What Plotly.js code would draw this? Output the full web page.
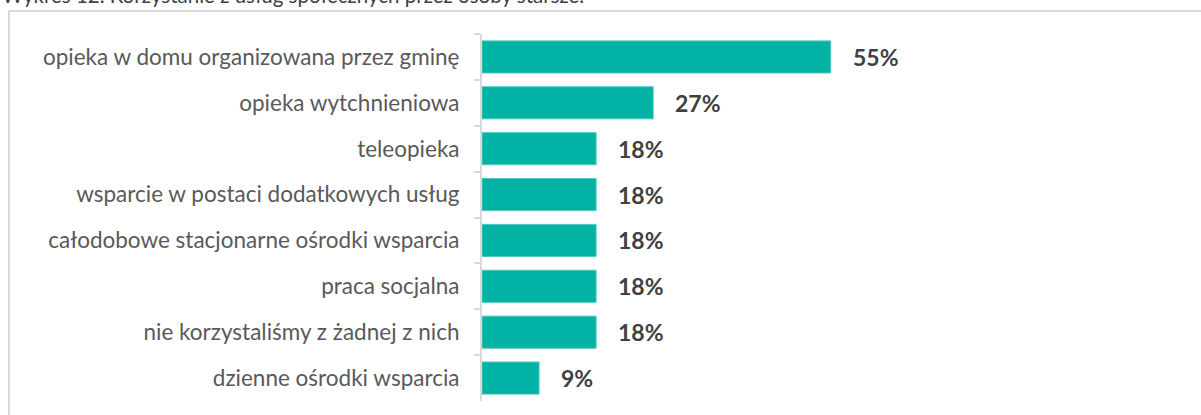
<!DOCTYPE html>
<html>
<head>
<meta charset="utf-8">
<script src="https://cdn.plot.ly/plotly-3.0.1.min.js"></script>
<style>
html,body{margin:0;padding:0;background:#fff;}
#chart{width:1201px;height:415px;}
</style>
</head>
<body>
<div id="chart"></div>
<script>
const titleText = "Wykres 12. Korzystanie z usług społecznych przez osoby starsze.";
const categories = [
  "opieka w domu organizowana przez gminę",
  "opieka wytchnieniowa",
  "teleopieka",
  "wsparcie w postaci dodatkowych usług",
  "całodobowe stacjonarne ośrodki wsparcia",
  "praca socjalna",
  "nie korzystaliśmy z żadnej z nich",
  "dzienne ośrodki wsparcia"
];
const values = [55, 27, 18, 18, 18, 18, 18, 9];
const valueLabels = values.map(v => v + "%");

const W = 1201, H = 415;
const mL = 482, mR = 0, mT = 34, mB = 14;
const pw = W - mL - mR, ph = H - mT - mB;
const px2x = p => (p - mL) / pw;
const py2y = p => (H - mB - p) / ph;

const font = "Lato, 'Open Sans', sans-serif";

const trace = {
  type: "bar",
  orientation: "h",
  y: categories,
  x: values,
  marker: {color: "#02B3A5", line: {color: "#4cc9bf", width: 1}},
  width: 0.7,
  hoverinfo: "none"
};

const annotations = values.map((v, i) => ({
  x: v, y: categories[i], xref: "x", yref: "y",
  text: "<b>" + valueLabels[i] + "</b>",
  showarrow: false, xanchor: "left", yanchor: "middle", xshift: 20,
  font: {family: font, size: 23, color: "#404040"}
}));
annotations.push({
  x: px2x(0), y: py2y(9), xref: "paper", yref: "paper",
  text: titleText, showarrow: false, xanchor: "left", yanchor: "bottom",
  font: {family: font, size: 20.5, color: "#404040"}
});

const layout = {
  width: W, height: H,
  margin: {l: mL, r: mR, t: mT, b: mB, pad: 0},
  paper_bgcolor: "#fff", plot_bgcolor: "#fff",
  showlegend: false,
  bargap: 0.3,
  xaxis: {range: [0, pw / 6.34], visible: false, fixedrange: true},
  yaxis: {
    type: "category", autorange: "reversed",
    showline: true, linecolor: "#d9d9d9", linewidth: 2,
    ticks: "outside", tickson: "boundaries", ticklen: 6, tickcolor: "#d9d9d9", tickwidth: 2,
    ticklabelstandoff: 16,
    showgrid: false, zeroline: false,
    tickfont: {family: font, size: 22.5, color: "#595959"},
    fixedrange: true
  },
  shapes: [
    {type: "line", xref: "paper", yref: "paper", x0: px2x(9), x1: px2x(1201), y0: py2y(11), y1: py2y(11), line: {color: "#d9d9d9", width: 2}},
    {type: "line", xref: "paper", yref: "paper", x0: px2x(9), x1: px2x(9), y0: py2y(11), y1: py2y(415), line: {color: "#d9d9d9", width: 2}}
  ],
  annotations: annotations
};

Plotly.newPlot("chart", [trace], layout, {displayModeBar: false, staticPlot: true});
</script>
</body>
</html>
